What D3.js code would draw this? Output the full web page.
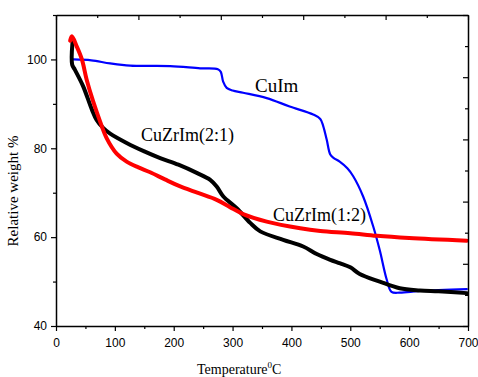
<!DOCTYPE html>
<html><head><meta charset="utf-8">
<script src="https://cdn.jsdelivr.net/npm/d3@7"></script>
<style>body{margin:0;background:#fff}svg{display:block}</style>
</head><body>
<svg id="c" width="478" height="377"></svg>
<script>
const xTicks = [0,100,200,300,400,500,600,700];
const yTicks = [40,60,80,100];
const seriesNames = ["CuIm","CuZrIm(2:1)","CuZrIm(1:2)"];
const cuIm = [[30,100],[60,99.8],[92,99.1],[126,98.6],[194,98.5],[245,98],[275,97.8],[280,97.2],[284,95],[290,93.6],[300,93],[318,92.5],[358,91.3],[397,89.4],[437,87.6],[449,86.6],[454,85],[460,81.9],[466,78.6],[472,77.8],[482,77],[495,75.5],[505,73.7],[522,69.1],[539,62.4],[550,57.1],[562,50.4],[570,47.7],[584,47.5],[620,47.9],[698,48.3]];
const cuZr21 = [[28,103.8],[27.5,98.8],[32,97.7],[46,94],[61,88.7],[69,86.4],[80,84.6],[92,83.3],[120,81.2],[150,79.3],[177,77.8],[208,76.3],[240,74.4],[262,72.9],[273,71.4],[284,69.2],[307,66.5],[330,63.2],[347,61.3],[386,59.4],[420,57.9],[443,56.2],[466,54.9],[483,54.1],[500,53.2],[516,51.7],[550,50],[584,48.5],[618,48],[650,47.8],[698,47.4]];
const cuZr12 = [[24,104.2],[27,105.2],[35,103],[44,100],[52,95.5],[63,90.6],[75,86],[86,82.3],[103,78.8],[120,77],[140,75.7],[160,74.6],[185,73],[208,71.6],[240,70],[273,68.4],[295,66.8],[318,65.2],[358,63.5],[415,62],[449,61.4],[500,60.9],[545,60.3],[600,59.8],[698,59.2]];
const colors = ["#0000ff","#000000","#ff0000"];

const svg = d3.select("#c");
const L=56,R=468,T=15,B=326;
const x = d3.scaleLinear().domain([0,700]).range([L,R]);
const y = d3.scaleLinear().domain([40,110]).range([B,T]);
const xTop = d3.scaleLinear().domain([0,10]).range([L,R]);
const yRight = d3.scaleLinear().domain([0,10]).range([B,T]);

// data lines
const line = d3.line().x(d=>x(d[0])).y(d=>y(d[1])).curve(d3.curveCatmullRom.alpha(0.5));
const data=[cuIm,cuZr21,cuZr12];
const widths=[2.2,4,4];
data.forEach((d,i)=>{
  svg.append("path").attr("d",line(d)).attr("fill","none").attr("stroke",colors[i])
    .attr("stroke-width",widths[i]).attr("stroke-linejoin","round").attr("stroke-linecap","round");
});

// axes
const axStyle = g=>{g.selectAll(".domain").attr("stroke","#000").attr("stroke-width",1.5);
  g.selectAll(".tick line").attr("stroke","#000").attr("stroke-width",1.2);};
// bottom
const gb = svg.append("g").attr("transform",`translate(0,${B})`)
  .call(d3.axisBottom(x).tickValues(d3.range(0,701,50)).tickSizeOuter(0)
   .tickFormat(d=>xTicks.includes(d)?d:""));
gb.call(axStyle);
gb.selectAll(".tick line").attr("y2",d=>d%100===0?5:3);
gb.selectAll(".tick text").attr("y",12).attr("font-family","Liberation Sans, Arial, sans-serif").attr("font-size",12).attr("fill","#000");
// left
const gl = svg.append("g").attr("transform",`translate(${L},0)`)
  .call(d3.axisLeft(y).tickValues(d3.range(40,111,10)).tickSizeOuter(0)
   .tickFormat(d=>yTicks.includes(d)?d:""));
gl.call(axStyle);
gl.selectAll(".tick line").attr("x2",d=>d%20===0?-5:-3);
gl.selectAll(".tick text").attr("x",-9).attr("font-family","Liberation Sans, Arial, sans-serif").attr("font-size",12).attr("fill","#000");
// top
const gt = svg.append("g").attr("transform",`translate(0,${T})`)
  .call(d3.axisTop(xTop).ticks(10).tickSizeOuter(0).tickFormat(""));
gt.call(axStyle);
gt.selectAll(".tick line").attr("y2",d=>d%2===0?5:3);
// right
const gr = svg.append("g").attr("transform",`translate(${R},0)`)
  .call(d3.axisRight(yRight).ticks(10).tickSizeOuter(0).tickFormat(""));
gr.call(axStyle);
gr.selectAll(".tick line").attr("x2",d=>d%2===0?-5:-3);

// series labels
const serif="Liberation Serif, Times New Roman, serif";
const lab=[[255,92],[141,141],[273,221]];
seriesNames.forEach((n,i)=>{
  svg.append("text").attr("x",lab[i][0]).attr("y",lab[i][1]).attr("font-family",serif)
   .attr("font-size",i===0?19:18).attr("fill","#000").text(n);
});
// axis titles
svg.append("text").attr("transform","translate(18,191) rotate(-90)").attr("text-anchor","middle")
  .attr("font-family",serif).attr("font-size",15).attr("fill","#000").text("Relative weight %");
const xt = svg.append("text").attr("x",197).attr("y",374).attr("font-family",serif).attr("font-size",14).attr("fill","#000");
xt.append("tspan").text("Temperature");
xt.append("tspan").attr("dy",-6).attr("font-size",9).text("0");
xt.append("tspan").attr("dy",6).text("C");
</script>
</body></html>
